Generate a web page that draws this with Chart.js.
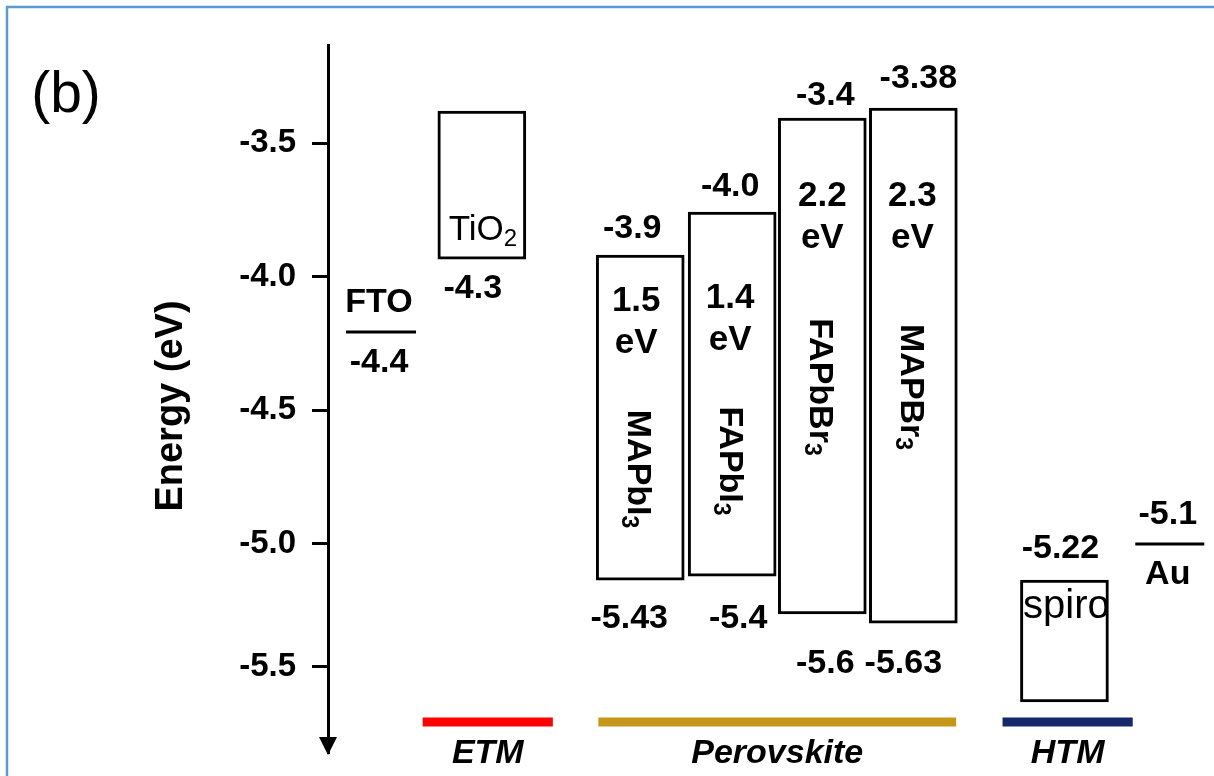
<!DOCTYPE html>
<html>
<head>
<meta charset="utf-8">
<script src="https://cdn.jsdelivr.net/npm/chart.js@4.4.0/dist/chart.umd.min.js"></script>
<style>
  html, body { margin: 0; padding: 0; background: #fff; }
  #wrap { width: 1214px; height: 776px; position: relative; }
</style>
</head>
<body>
<div id="wrap"><canvas id="diagram"></canvas></div>
<script>
// layers of the cell, x = slot position along the stack
const layerNames = ['TiO_2', 'MAPbI_3', 'FAPbI_3', 'FAPbBr_3', 'MAPBr_3', 'spiro'];
const layerX = [1.69, 3.43, 4.44, 5.43, 6.43, 8.09];
const boxTop = [-3.38, -3.919, -3.758, -3.406, -3.369, -5.135];
const boxBottom = [-3.934, -5.135, -5.120, -5.262, -5.296, -5.591];
const topLabels = ['', '-3.9', '-4.0', '-3.4', '-3.38', '-5.22'];
const bottomLabels = ['-4.3', '-5.43', '-5.4', '-5.6', '-5.63', ''];
const gapLabels = ['', '1.5', '1.4', '2.2', '2.3', ''];

// electrodes (single level lines)
const electrodeX = [[0.198, 0.967], [8.868, 9.626]];
const electrodeLevel = [-4.207, -5.0];
const electrodeAbove = ['FTO', '-5.1'];
const electrodeBelow = ['-4.4', 'Au'];

// groups under the boxes
const groupNames = ['ETM', 'Perovskite', 'HTM'];
const groupStart = [1.04, 2.97, 7.41];
const groupEnd = [2.47, 6.90, 8.84];
const groupLevel = -5.666;
const groupColors = ['#ff0000', '#c4961a', '#14286b'];

const tickPositions = [-3.5, -4.0, -4.5, -5.0, -5.46];
const tickLabels = ['-3.5', '-4.0', '-4.5', '-5.0', '-5.5'];

// text placement (pixels, relative to box edges)
const FONT = '"Liberation Sans", Arial, sans-serif';
const topDx = [0, -8, -2, 3, 5, -4], topDy = [0, 17, 16, 13, 20, 22];
const bottomDx = [-9, -11, 6, 3, -10, 0], bottomDy = [39, 48, 52, 59, 50, 0];
const gapDx = [0, -4, -2, 0, -1, 0], gapDy = [0, 56, 96, 88, 98, 0];
const nameRotated = [false, true, true, true, true, false];
const nameDx = [1, -12, -12, -12, -12, 2], nameDy = [129, 214, 249, 269, 279, 38];

function chem(ctx, text, x, y, size, weight) {
    const parts = text.split('_');
    const base = parts[0], sub = parts[1] || '';
    const subSize = Math.round(size * 0.68);
    ctx.font = weight + ' ' + size + 'px ' + FONT;
    const wb = ctx.measureText(base).width;
    ctx.font = weight + ' ' + subSize + 'px ' + FONT;
    const ws = sub ? ctx.measureText(sub).width : 0;
    const x0 = x - (wb + ws) / 2;
    ctx.textAlign = 'left';
    ctx.textBaseline = 'alphabetic';
    ctx.font = weight + ' ' + size + 'px ' + FONT;
    ctx.fillText(base, x0, y);
    if (sub) {
        ctx.font = weight + ' ' + subSize + 'px ' + FONT;
        ctx.fillText(sub, x0 + wb, y + size * 0.17);
    }
}

function txt(ctx, text, x, y, font) {
    ctx.font = font;
    ctx.textAlign = 'center';
    ctx.textBaseline = 'alphabetic';
    ctx.fillText(text, x, y);
}

const labelsPlugin = {
    id: 'labels',
    afterDraw(chart) {
        const ctx = chart.ctx;
        const xs = chart.scales.x, ys = chart.scales.y;
        const area = chart.chartArea;
        ctx.save();
        ctx.fillStyle = '#000';

        // frame
        ctx.strokeStyle = '#5b9bd5';
        ctx.lineWidth = 2.5;
        ctx.beginPath();
        ctx.moveTo(7, 776);
        ctx.lineTo(7, 7);
        ctx.lineTo(1214, 7);
        ctx.stroke();

        // arrow head on the axis
        ctx.beginPath();
        ctx.moveTo(area.left - 9, area.bottom - 16);
        ctx.lineTo(area.left + 9, area.bottom - 16);
        ctx.lineTo(area.left, area.bottom + 2);
        ctx.closePath();
        ctx.fill();

        txt(ctx, '(b)', 66, 112, 'normal 57px ' + FONT);

        ctx.save();
        ctx.translate(182, 406);
        ctx.rotate(-Math.PI / 2);
        txt(ctx, 'Energy (eV)', 0, 0, 'bold 38px ' + FONT);
        ctx.restore();

        const bold = 'bold 34px ' + FONT;
        layerNames.forEach(function (name, i) {
            const cx = xs.getPixelForValue(layerX[i]);
            const top = ys.getPixelForValue(boxTop[i]);
            const bottom = ys.getPixelForValue(boxBottom[i]);
            if (topLabels[i]) txt(ctx, topLabels[i], cx + topDx[i], top - topDy[i], bold);
            if (bottomLabels[i]) txt(ctx, bottomLabels[i], cx + bottomDx[i], bottom + bottomDy[i], bold);
            if (gapLabels[i]) {
                txt(ctx, gapLabels[i], cx + gapDx[i], top + gapDy[i], 'bold 35px ' + FONT);
                txt(ctx, 'eV', cx + gapDx[i], top + gapDy[i] + 42, 'bold 35px ' + FONT);
            }
            if (nameRotated[i]) {
                ctx.save();
                ctx.translate(cx, top + nameDy[i]);
                ctx.rotate(Math.PI / 2);
                chem(ctx, name, 0, -nameDx[i], 34, 'bold');
                ctx.restore();
            } else {
                chem(ctx, name, cx + nameDx[i], top + nameDy[i], name === 'spiro' ? 40 : 35, 'normal');
            }
        });

        electrodeLevel.forEach(function (lv, i) {
            const cx = xs.getPixelForValue((electrodeX[i][0] + electrodeX[i][1]) / 2);
            const y = ys.getPixelForValue(lv);
            txt(ctx, electrodeAbove[i], cx - 2, y - 20, bold);
            txt(ctx, electrodeBelow[i], cx - 2, y + 40, bold);
        });

        groupNames.forEach(function (g, i) {
            const cx = xs.getPixelForValue((groupStart[i] + groupEnd[i]) / 2);
            txt(ctx, g, cx, 763, 'italic bold 34px ' + FONT);
        });
        ctx.restore();
    }
};

const datasets = [{
    type: 'bar',
    data: layerX.map(function (x, i) { return { x: x, y: [boxBottom[i], boxTop[i]] }; }),
    backgroundColor: '#ffffff',
    borderColor: '#000000',
    borderWidth: 3,
    borderSkipped: false,
    barThickness: 88,
    grouped: false
}];
electrodeLevel.forEach(function (lv, i) {
    datasets.push({
        type: 'line',
        data: [{ x: electrodeX[i][0], y: lv }, { x: electrodeX[i][1], y: lv }],
        borderColor: '#000000',
        borderWidth: 3,
        pointRadius: 0
    });
});
groupNames.forEach(function (g, i) {
    datasets.push({
        type: 'line',
        data: [{ x: groupStart[i], y: groupLevel }, { x: groupEnd[i], y: groupLevel }],
        borderColor: groupColors[i],
        borderWidth: 9,
        borderCapStyle: 'butt',
        pointRadius: 0
    });
});

function noPad(s) {
    s.paddingTop = 0; s.paddingBottom = 0; s.paddingLeft = 0; s.paddingRight = 0;
}

new Chart(document.getElementById('diagram'), {
    type: 'bar',
    data: { datasets: datasets },
    options: {
        responsive: true,
        maintainAspectRatio: false,
        animation: false,
        layout: { padding: { top: 45, bottom: 23, left: 0, right: 3 } },
        plugins: { legend: { display: false }, tooltip: { enabled: false } },
        scales: {
            x: {
                type: 'linear', min: 0, max: 9.7, display: false, offset: false,
                afterFit: noPad
            },
            y: {
                min: -5.782,
                max: -3.133,
                afterFit: function (s) { s.width = 328; noPad(s); },
                afterBuildTicks: function (s) {
                    s.ticks = tickPositions.map(function (v) { return { value: v }; });
                },
                ticks: {
                    autoSkip: false,
                    padding: 16,
                    color: '#000',
                    font: { family: FONT, size: 33, weight: 'bold' },
                    callback: function (v, i) { return tickLabels[i]; }
                },
                grid: { drawOnChartArea: false, tickLength: 16, tickWidth: 3, tickColor: '#000' },
                border: { display: true, color: '#000', width: 3 }
            }
        }
    },
    plugins: [labelsPlugin]
});
</script>
</body>
</html>
